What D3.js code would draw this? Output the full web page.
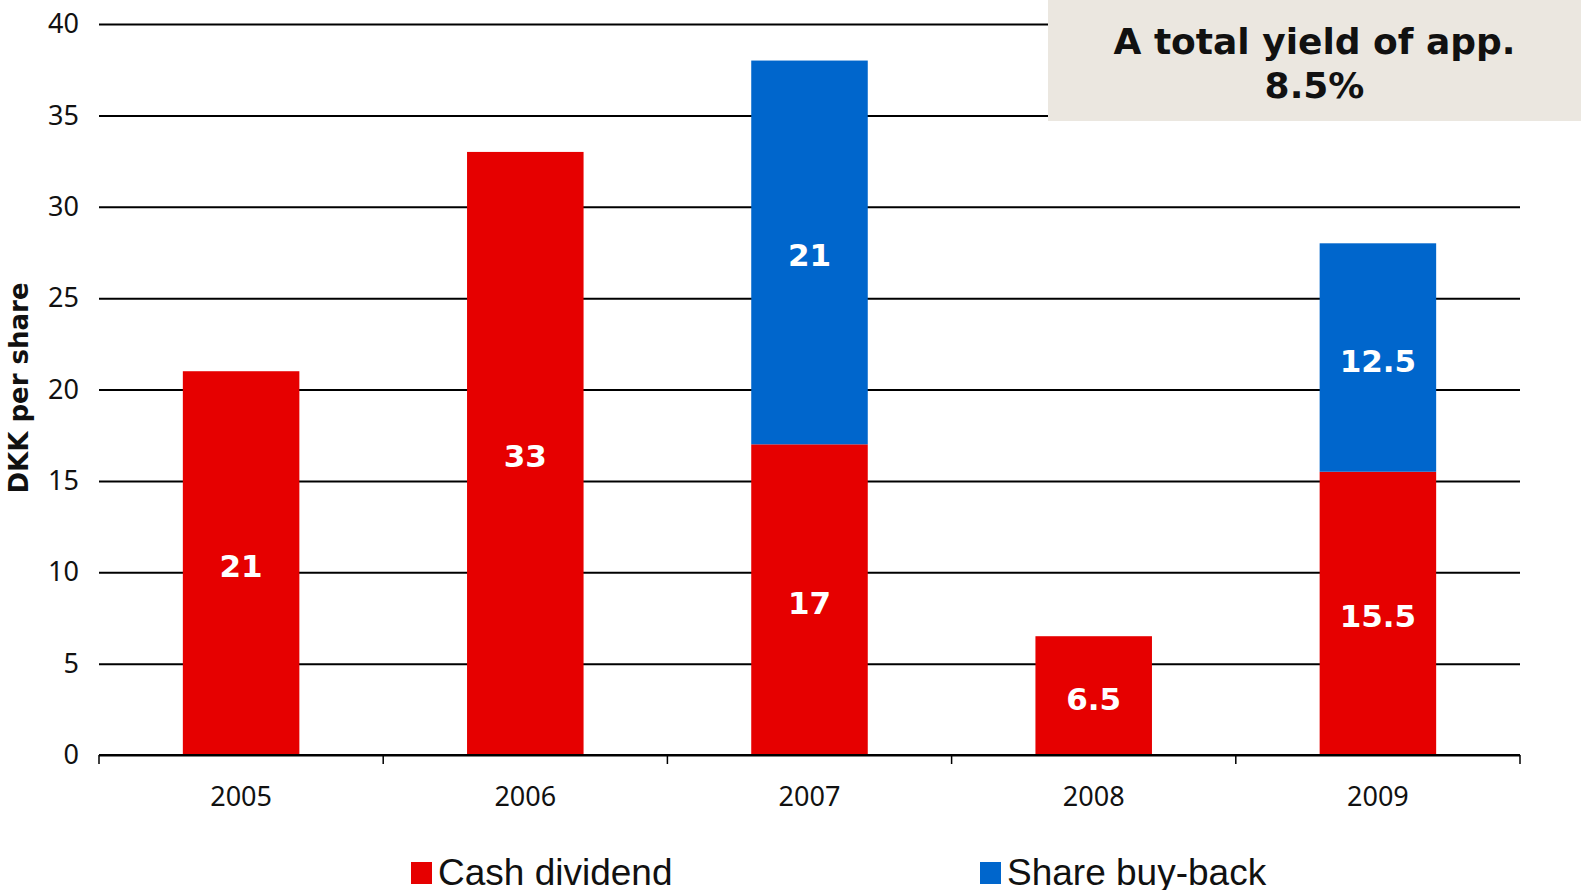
<!DOCTYPE html>
<html>
<head>
<meta charset="utf-8">
<script src="https://cdn.jsdelivr.net/npm/d3@7"></script>
<style>
  body { margin: 0; background: #fff; }
  svg { display: block; }
</style>
</head>
<body>
<svg id="chart" width="1581" height="890"></svg>
<script>
  // data
  const years = ["2005", "2006", "2007", "2008", "2009"];
  const cashDividend = [21, 33, 17, 6.5, 15.5];
  const shareBuyBack = [0, 0, 21, 0, 12.5];
  const yTicks = [0, 5, 10, 15, 20, 25, 30, 35, 40];
  const seriesNames = ["Cash dividend", "Share buy-back"];
  const seriesColors = ["#e60000", "#0066cc"];
  const noteLines = ["A total yield of app.", "8.5%"];

  const svg = d3.select("#chart");
  const plotLeft = 99, plotRight = 1520, plotTop = 24, plotBottom = 755;

  const x = d3.scaleBand().domain(years).range([plotLeft, plotRight])
    .paddingInner(0.59).paddingOuter(0.295);
  const y = d3.scaleLinear().domain([0, 40]).range([plotBottom, plotTop]);

  const rows = years.map((yr, i) => ({ year: yr, cash: cashDividend[i], buyback: shareBuyBack[i] }));
  const stacked = d3.stack().keys(["cash", "buyback"])(rows);

  // gridlines + y labels
  const yAxis = svg.append("g")
    .attr("transform", `translate(${plotLeft},0)`)
    .call(d3.axisLeft(y).tickValues(yTicks).tickSize(-(plotRight - plotLeft)).tickPadding(20));
  yAxis.select(".domain").remove();
  yAxis.selectAll(".tick line").attr("stroke", "#000").attr("stroke-width", 2);
  yAxis.selectAll(".tick text")
    .attr("font-family", "'Noto Sans', sans-serif")
    .attr("font-size", 27).attr("fill", "#111");

  // bars
  stacked.forEach((layer, li) => {
    svg.append("g").attr("fill", seriesColors[li])
      .selectAll("rect")
      .data(layer.filter(d => d[1] - d[0] > 0))
      .join("rect")
      .attr("x", d => x(d.data.year))
      .attr("width", x.bandwidth())
      .attr("y", d => y(d[1]))
      .attr("height", d => y(d[0]) - y(d[1]));
  });

  // bar labels
  stacked.forEach(layer => {
    svg.append("g")
      .selectAll("text")
      .data(layer.filter(d => d[1] - d[0] > 0))
      .join("text")
      .attr("x", d => x(d.data.year) + x.bandwidth() / 2)
      .attr("y", d => y((d[0] + d[1]) / 2) + 3)
      .attr("text-anchor", "middle")
      .attr("dominant-baseline", "central")
      .attr("font-family", "'DejaVu Sans', Verdana, sans-serif")
      .attr("font-weight", "bold")
      .attr("font-size", 31)
      .attr("fill", "#fff")
      .text(d => d[1] - d[0]);
  });

  // x axis line, boundary ticks and labels
  svg.append("line")
    .attr("x1", plotLeft).attr("x2", plotRight)
    .attr("y1", plotBottom).attr("y2", plotBottom)
    .attr("stroke", "#000").attr("stroke-width", 2);
  const bounds = d3.range(years.length + 1).map(i => plotLeft + i * x.step());
  svg.append("g").selectAll("line")
    .data(bounds)
    .join("line")
    .attr("x1", d => d).attr("x2", d => d)
    .attr("y1", plotBottom).attr("y2", plotBottom + 9)
    .attr("stroke", "#000").attr("stroke-width", 1.5);
  svg.append("g").selectAll("text")
    .data(years)
    .join("text")
    .attr("x", d => x(d) + x.bandwidth() / 2)
    .attr("y", 806)
    .attr("text-anchor", "middle")
    .attr("font-family", "'Noto Sans', sans-serif")
    .attr("font-size", 27).attr("fill", "#111")
    .text(d => d);

  // y axis title
  svg.append("text")
    .attr("transform", "translate(28,388) rotate(-90)")
    .attr("text-anchor", "middle")
    .attr("font-family", "'DejaVu Sans', Verdana, sans-serif")
    .attr("font-weight", "bold")
    .attr("font-size", 26)
    .attr("fill", "#111")
    .text("DKK per share");

  // note box
  const boxX = 1048, boxH = 121;
  svg.append("rect")
    .attr("x", boxX).attr("y", 0)
    .attr("width", 1581 - boxX).attr("height", boxH)
    .attr("fill", "#ebe7e0");
  svg.append("g").selectAll("text")
    .data(noteLines)
    .join("text")
    .attr("x", (boxX + 1581) / 2)
    .attr("y", (d, i) => 54 + i * 44)
    .attr("text-anchor", "middle")
    .attr("font-family", "'DejaVu Sans', Verdana, sans-serif")
    .attr("font-weight", "bold")
    .attr("font-size", 36)
    .attr("fill", "#111")
    .text(d => d);

  // legend
  const legendX = [411, 980];
  const legend = svg.append("g").selectAll("g")
    .data(seriesNames)
    .join("g")
    .attr("transform", (d, i) => `translate(${legendX[i]},0)`);
  legend.append("rect")
    .attr("x", 0).attr("y", 862)
    .attr("width", 21).attr("height", 22)
    .attr("fill", (d, i) => seriesColors[i]);
  legend.append("text")
    .attr("x", 27).attr("y", 885)
    .attr("font-family", "'Liberation Sans', Arial, sans-serif")
    .attr("font-size", 37)
    .attr("fill", "#111")
    .text(d => d);
</script>
</body>
</html>
